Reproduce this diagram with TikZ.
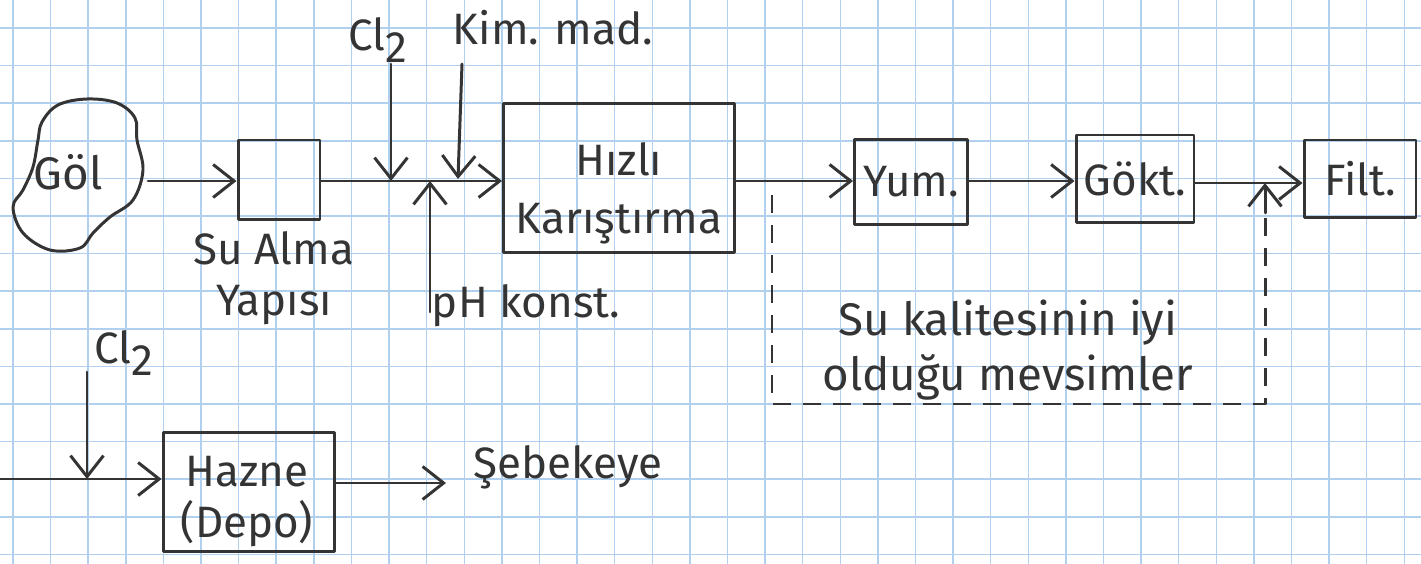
\documentclass[tikz,border=0pt]{standalone}
\usepackage{fontspec}
\setmainfont{Fira Sans}
\usetikzlibrary{arrows.meta}
\definecolor{gridblue}{RGB}{176,208,238}
\definecolor{inkc}{RGB}{52,52,52}
\newcommand{\cltwo}{Cl\raisebox{-0.55ex}{2}}
\begin{document}
\begin{tikzpicture}[x=0.02cm,y=-0.02cm,
  inkline/.style={draw=inkc, line width=1.7pt, line cap=round, line join=round},
  box/.style={inkline, rectangle, inner sep=0pt, align=center, text=inkc,
    font=\fontsize{25}{31}\selectfont},
  lbl/.style={text=inkc, inner sep=0pt, align=center, font=\fontsize{25}{29}\selectfont},
  flow/.style={inkline, -{Straight Barb[length=0.42cm,width=0.66cm,line width=1.7pt]}},
  seasonline/.style={inkline, line cap=butt, dash pattern=on 0.36cm off 0.24cm},
]
\useasboundingbox (0,0) rectangle (1421,564);
\fill[white] (0,0) rectangle (1421,564);
% grid paper
\foreach \i in {0,...,37} \draw[gridblue, line width=0.8pt] ({13+37.6*\i},0) -- ({13+37.6*\i},564);
\foreach \j in {0,...,14} \draw[gridblue, line width=0.8pt] (0,{28+37.6*\j}) -- (1421,{28+37.6*\j});

% lake
\draw[inkline] plot[smooth cycle, tension=0.6] coordinates {
  (42,122) (58,105) (87,99) (117,103) (135,118) (137,140) (143,170)
  (133,200) (110,217) (93,233) (80,248) (50,250) (23,233) (13,207)
  (23,190) (33,167) (38,140)};
\node[lbl, font=\fontsize{26}{30}\selectfont] (gol) at (68,172) {Göl};
\coordinate (golout) at (148,181);

% boxes
\node[box, minimum width=1.64cm, minimum height=1.6cm] (sualma) at (279,180) {};
\node[lbl] (sualbl) at (274,278) {Su Alma\\Yapısı};
\node[box, minimum width=4.62cm, minimum height=3.0cm] (hizli) at (619,178) {};
\node[lbl, font=\fontsize{25}{33}\selectfont] (hizlitxt) at (619,193) {Hızlı\\Karıştırma};
\node[box, minimum width=2.26cm, minimum height=1.7cm] (yum) at (911,182) {Yum.};
\node[box, minimum width=2.36cm, minimum height=1.76cm] (gokt) at (1135,179) {Gökt.};
\node[box, minimum width=2.24cm, minimum height=1.56cm] (filt) at (1360,179) {Filt.};
\node[box, minimum width=3.44cm, minimum height=2.38cm] (hazne) at (249,492) {};
\node[lbl, font=\fontsize{25}{29}\selectfont] (haznetxt) at (247,502) {Hazne\\(Depo)};

% chemical labels
\node[lbl] (cl2a) at (378,40) {\cltwo};
\node[lbl] (kim) at (553,28) {Kim. mad.};
\node[lbl] (ph) at (526,306) {pH konst.};
\node[lbl] (cl2b) at (124,353) {\cltwo};
\node[lbl, anchor=west] (sebeke) at (473,467) {Şebekeye};
\node[lbl, font=\fontsize{26}{31}\selectfont] (season) at (1008,350) {Su kalitesinin iyi\\olduğu mevsimler};

% junction coordinates
\coordinate (m1) at (300,181);
\coordinate (cltop) at (391,64);
\coordinate (cljoin) at (391,181);
\coordinate (kimtop) at (462,64);
\coordinate (kimjoin) at (458,179);
\coordinate (phbot) at (430,312);
\coordinate (phjoin) at (430,181);
\coordinate (ds) at (772,195);
\coordinate (dc1) at (772,404);
\coordinate (dc2) at (1265,404);
\coordinate (dj) at (1265,183);
\coordinate (in0) at (0,479);
\coordinate (cl2top) at (87,372);
\coordinate (cl2join) at (87,479);
\coordinate (outend) at (446,483);

% main flow
\draw[flow] (golout) -- (sualma.west |- golout);
\draw[flow] (sualma.east |- m1) -- (hizli.west |- m1);
\draw[flow] (cltop) -- (cljoin);
\draw[flow] (kimtop) -- (kimjoin);
\draw[flow] (phbot) -- (phjoin);
\draw[flow] (hizli.east |- m1) -- (yum.west |- m1);
\draw[flow] (yum.east |- m1) -- (gokt.west |- m1);
\draw[flow] (gokt.east |- dj) -- (filt.west |- dj);
% bypass in good seasons
\draw[seasonline] (ds) -- (dc1) -- (dc2) -- ([yshift=-0.6cm]dj);
\draw[flow] ([yshift=-0.6cm]dj) -- (dj);

% storage
\draw[flow] (in0) -- (hazne.west |- in0);
\draw[flow] (cl2top) -- (cl2join);
\draw[flow] (hazne.east |- outend) -- (outend);
\end{tikzpicture}
\end{document}
